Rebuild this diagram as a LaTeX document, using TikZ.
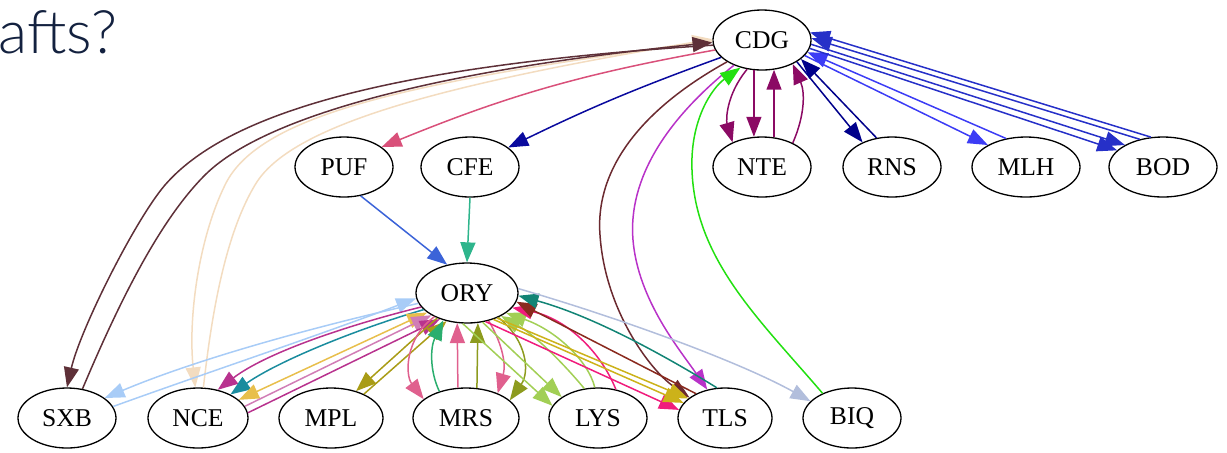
\documentclass[tikz,border=0pt]{standalone}
\usepackage{fontspec}
\setmainfont{Liberation Serif}
\IfFontExistsTF{Lato Light}{\newfontfamily\titlefont{Lato Light}}{\newfontfamily\titlefont{Lato}}
\usetikzlibrary{arrows.meta,shapes.geometric}

\definecolor{titlenavy}{HTML}{13213F}
\definecolor{sxbbrown}{HTML}{5E3038}
\definecolor{beige}{HTML}{F3DCC0}
\definecolor{pufred}{HTML}{D9507A}
\definecolor{navyb}{HTML}{0A0A9E}
\definecolor{tlsbrown}{HTML}{6B2A30}
\definecolor{tlspurple}{HTML}{B832C8}
\definecolor{biqgreen}{HTML}{22E010}
\definecolor{ntepurple}{HTML}{8B0A64}
\definecolor{rnsnavy}{HTML}{00008B}
\definecolor{mlhblue}{HTML}{3C3CF5}
\definecolor{bodblue}{HTML}{2630C8}
\definecolor{puforyblue}{HTML}{3B63D8}
\definecolor{cfegreen}{HTML}{2EB58C}
\definecolor{sxbblue}{HTML}{A8CCF7}
\definecolor{ncemag}{HTML}{B8328E}
\definecolor{nceteal}{HTML}{1A8C9E}
\definecolor{ncegold}{HTML}{E8BF4C}
\definecolor{nceorchid}{HTML}{D17DB6}
\definecolor{mplolive}{HTML}{A99C16}
\definecolor{mrspink}{HTML}{E0608E}
\definecolor{mrsgreen}{HTML}{2AAE6E}
\definecolor{mrsolive}{HTML}{8D9B1E}
\definecolor{lysgreen}{HTML}{A2CF55}
\definecolor{tlspink}{HTML}{F01C7C}
\definecolor{tlsgold}{HTML}{CCB21A}
\definecolor{tlsmaroon}{HTML}{8A2A1E}
\definecolor{tlsteal}{HTML}{128475}
\definecolor{biqblue}{HTML}{B2BEDC}

\begin{document}
\begin{tikzpicture}[x=0.5pt,y=0.5pt,
    apt/.style={draw,ellipse,fill=white,line width=0.65pt,minimum width=49pt,minimum height=30pt,inner sep=0pt,font=\fontsize{12.8}{14}\selectfont},
    wide/.style={minimum width=54pt},
    e/.style={-{Triangle[length=10pt,width=7.5pt]},line width=0.75pt},
    ee/.style={{Triangle[length=10pt,width=7.5pt]}-{Triangle[length=10pt,width=7.5pt]},line width=0.75pt}]
    \useasboundingbox (0,0) rectangle (1227,-452);
    \node[anchor=base west,inner sep=0pt,text=titlenavy,font=\titlefont\fontsize{30}{36}\selectfont] (title) at (-2,-53) {afts?};
    % airports
    \node[apt] (CDG) at (762,-40) {CDG};
    \node[apt] (PUF) at (344,-167) {PUF};
    \node[apt] (CFE) at (470,-167) {CFE};
    \node[apt] (NTE) at (762,-167) {NTE};
    \node[apt] (RNS) at (892,-167) {RNS};
    \node[apt,wide] (MLH) at (1026,-167) {MLH};
    \node[apt,wide] (BOD) at (1163,-167) {BOD};
    \node[apt,minimum width=51pt] (ORY) at (467,-293) {ORY};
    \node[apt] (SXB) at (67,-418) {SXB};
    \node[apt,minimum width=50pt] (NCE) at (198,-418) {NCE};
    \node[apt,minimum width=52pt] (MPL) at (331,-418) {MPL};
    \node[apt,minimum width=53pt] (MRS) at (466,-418) {MRS};
    \node[apt] (LYS) at (598,-418) {LYS};
    \node[apt,minimum width=47pt] (TLS) at (725,-418) {TLS};
    \node[apt] (BIQ) at (852,-418) {BIQ};
    % CDG, far left
    \draw[e,beige] (CDG.181) .. controls (420,-80) and (260,-112) .. (225,-185) .. controls (198,-240) and (188,-320) .. (NCE.95);
    \draw[e,beige] (NCE.80) .. controls (210,-330) and (222,-240) .. (255,-185) .. controls (290,-125) and (440,-85) .. (CDG.179);
    \draw[e,sxbbrown] (CDG.186) .. controls (400,-65) and (230,-110) .. (165,-185) .. controls (135,-220) and (80,-330) .. (SXB.90);
    \draw[e,sxbbrown] (SXB.62) .. controls (120,-300) and (160,-220) .. (205,-175) .. controls (260,-120) and (420,-72) .. (CDG.183);
    \draw[e,pufred] (CDG.192) to[bend right=6] (PUF.28);
    \draw[e,navyb] (CDG.203) to[bend right=3] (CFE.27);
    % CDG down to TLS, BIQ
    \draw[e,tlsbrown] (CDG.212) .. controls (640,-110) and (595,-170) .. (600,-235) .. controls (605,-310) and (650,-370) .. (TLS.150);
    \draw[e,tlspurple] (CDG.222) .. controls (665,-120) and (628,-180) .. (633,-240) .. controls (638,-300) and (680,-350) .. (TLS.122);
    \draw[e,biqgreen] (BIQ.140) .. controls (760,-320) and (695,-260) .. (692,-170) .. controls (690,-120) and (712,-88) .. (CDG.232);
    % CDG right side
    \draw[e,ntepurple] (CDG.243) .. controls (726,-95) and (726,-120) .. (NTE.140);
    \draw[e,ntepurple] (CDG.255) -- (NTE.105);
    \draw[e,ntepurple] (NTE.68) -- (CDG.292);
    \draw[e,ntepurple] (NTE.38) .. controls (805,-115) and (805,-92) .. (CDG.322);
    \draw[e,rnsnavy] (CDG.328) -- (RNS.140);
    \draw[e,rnsnavy] (RNS.118) -- (CDG.334);
    \draw[e,mlhblue] (CDG.340) -- (MLH.150);
    \draw[e,mlhblue] (MLH.125) -- (CDG.345);
    \draw[e,bodblue] (CDG.350) -- (BOD.160);
    \draw[e,bodblue] (CDG.355) -- (BOD.150);
    \draw[e,bodblue] (BOD.130) -- (CDG.2);
    \draw[e,bodblue] (BOD.112) -- (CDG.9);
    % into ORY
    \draw[e,puforyblue] (PUF.300) -- (ORY.125);
    \draw[e,cfegreen] (CFE.south) -- (ORY.north);
    % ORY and the bottom row
    \draw[e,sxbblue] (ORY.192) .. controls (300,-330) and (190,-362) .. (SXB.28);
    \draw[e,sxbblue] (SXB.14) .. controls (200,-375) and (320,-335) .. (ORY.186);
    \draw[e,ncemag] (ORY.197) .. controls (360,-322) and (270,-350) .. (NCE.55);
    \draw[e,nceteal] (ORY.201) .. controls (360,-328) and (280,-360) .. (NCE.36);
    \draw[ee,ncegold] (NCE.24) -- (ORY.206);
    \draw[e,nceorchid] (NCE.14) -- (ORY.212);
    \draw[e,ncemag] (NCE.6) -- (ORY.224);
    \draw[e,mplolive] (ORY.220) -- (MPL.47);
    \draw[e,mplolive] (MPL.36) -- (ORY.234);
    \draw[e,mrspink] (ORY.216) .. controls (405,-338) and (405,-375) .. (MRS.156);
    \draw[e,mrspink] (MRS.105) -- (ORY.252);
    \draw[e,mrsgreen] (MRS.135) .. controls (430,-372) and (430,-348) .. (ORY.229);
    \draw[e,mrsolive] (MRS.70) -- (ORY.290);
    \draw[e,mrspink] (ORY.308) .. controls (503,-345) and (506,-365) .. (MRS.38);
    \draw[e,mrsolive] (ORY.322) .. controls (527,-340) and (530,-372) .. (MRS.22);
    \draw[e,lysgreen] (ORY.262) -- (LYS.165);
    \draw[e,lysgreen] (ORY.298) -- (LYS.150);
    \draw[e,lysgreen] (LYS.115) .. controls (565,-365) and (535,-335) .. (ORY.326);
    \draw[e,lysgreen] (LYS.96) .. controls (588,-360) and (555,-330) .. (ORY.333);
    \draw[e,tlspink] (LYS.58) .. controls (600,-350) and (565,-318) .. (ORY.342);
    \draw[e,tlspink] (ORY.303) -- (TLS.170);
    \draw[e,tlsgold] (ORY.315) -- (TLS.160);
    \draw[e,tlsgold] (ORY.320) -- (TLS.152);
    \draw[e,tlsmaroon] (TLS.140) -- (ORY.350);
    \draw[e,tlsteal] (TLS.105) .. controls (680,-365) and (600,-318) .. (ORY.357);
    \draw[e,biqblue] (ORY.5) .. controls (620,-318) and (740,-362) .. (BIQ.158);
\end{tikzpicture}
\end{document}
